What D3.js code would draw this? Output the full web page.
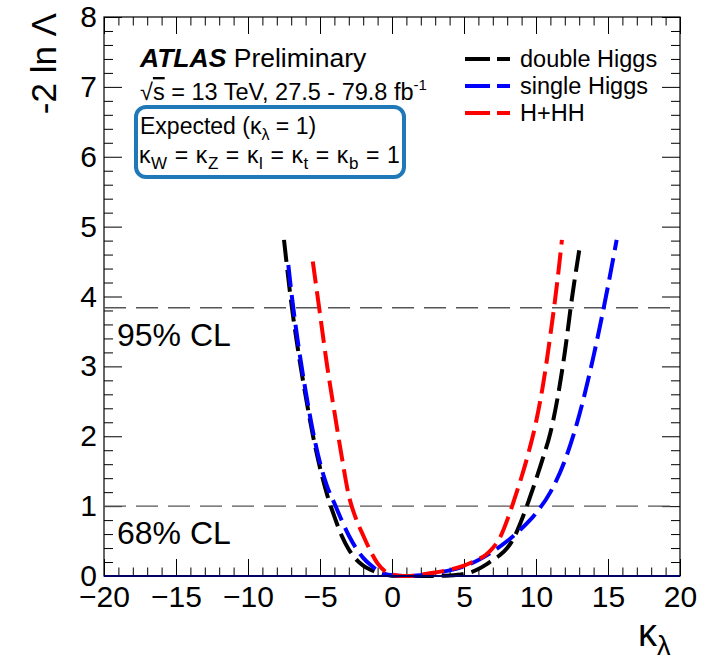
<!DOCTYPE html>
<html>
<head>
<meta charset="utf-8">
<script src="https://cdn.jsdelivr.net/npm/d3@7"></script>
<style>
  body { margin: 0; background: #fff; }
  svg text { font-family: "Liberation Sans", Arial, Helvetica, sans-serif; fill: #000; }
</style>
</head>
<body>
<div class="canvas"></div>
<script>
// kappa_lambda scan points and -2 ln Lambda values
const doubleK = [-7.5, -7, -6.5, -6, -5.5, -5, -4.5, -4, -3.5, -3, -2.5, -2, -1.5, -1, -0.5, 0, 1, 2, 3, 4, 5, 5.5, 6, 6.5, 7, 7.5, 8, 8.5, 9, 9.5, 10, 10.5, 11, 11.5, 12, 12.5, 13];
const doubleV = [4.81, 3.92, 3.2, 2.58, 2.02, 1.55, 1.16, 0.85, 0.58, 0.38, 0.24, 0.15, 0.09, 0.05, 0.02, 0.005, 0, 0, 0.002, 0.008, 0.03, 0.055, 0.1, 0.16, 0.23, 0.3, 0.4, 0.56, 0.8, 1.08, 1.38, 1.7, 2.05, 2.55, 3.2, 3.98, 4.66];

const singleK = [-7.2, -7, -6.5, -6, -5.5, -5, -4.5, -4, -3.5, -3, -2.5, -2, -1.5, -1, -0.5, 0, 1, 2, 3, 4, 5, 6, 7, 8, 9, 10, 11, 12, 13, 14, 15, 15.6];
const singleV = [4.45, 4.08, 3.3, 2.65, 2.08, 1.62, 1.28, 1.04, 0.8, 0.58, 0.4, 0.26, 0.16, 0.08, 0.03, 0.01, 0, 0.01, 0.04, 0.08, 0.14, 0.23, 0.35, 0.5, 0.68, 0.9, 1.2, 1.65, 2.3, 3.15, 4.15, 4.81];

const comboK = [-5.5, -5, -4.5, -4, -3.5, -3, -2.5, -2, -1.5, -1, -0.5, 0, 0.5, 1, 1.5, 2, 3, 4, 5, 6, 6.5, 7, 7.5, 8, 8.5, 9, 9.5, 10, 10.5, 11, 11.5, 11.8];
const comboV = [4.5, 3.75, 3.0, 2.35, 1.72, 1.15, 0.82, 0.58, 0.36, 0.18, 0.07, 0.02, 0.003, 0, 0.005, 0.02, 0.05, 0.09, 0.15, 0.24, 0.3, 0.4, 0.55, 0.8, 1.1, 1.42, 1.78, 2.2, 2.75, 3.45, 4.25, 4.81];

const seriesNames = ['double Higgs', 'single Higgs', 'H+HH'];
const seriesColors = ['#000000', '#0000ff', '#ff0000'];

const clValues = [3.84, 1];
const clLabels = ['95% CL', '68% CL'];

const xMajor = [-20, -15, -10, -5, 0, 5, 10, 15, 20];
const yMajor = [0, 1, 2, 3, 4, 5, 6, 7, 8];

const svg = d3.select('.canvas')
    .append('svg')
    .attr('width', 704)
    .attr('height', 664);

const fLeft = 104, fRight = 680, fTop = 17, fBottom = 576;

const x = d3.scaleLinear().domain([-20, 20]).range([fLeft, fRight]);
const y = d3.scaleLinear().domain([0, 8]).range([fBottom, fTop]);

const xMinor = d3.range(-20, 21, 1).filter(v => v % 5 !== 0);
const yMinor = d3.range(0, 8.01, 0.2).map(v => +v.toFixed(1)).filter(v => Math.abs(v - Math.round(v)) > 0.01);

// axes, ticks pointing inwards on all four sides
const tickStyle = g => {
    g.select('.domain').remove();
    g.selectAll('line').attr('stroke', '#000').attr('stroke-width', 1);
};

svg.append('g')
    .attr('transform', `translate(0,${fBottom})`)
    .call(d3.axisBottom(x).tickValues(xMajor).tickSize(-17).tickPadding(10))
    .call(tickStyle)
    .selectAll('text').attr('font-size', 30);
svg.append('g')
    .attr('transform', `translate(0,${fBottom})`)
    .call(d3.axisBottom(x).tickValues(xMinor).tickSize(-8.5).tickFormat(''))
    .call(tickStyle);
svg.append('g')
    .attr('transform', `translate(0,${fTop})`)
    .call(d3.axisTop(x).tickValues(xMajor).tickSize(-17).tickFormat(''))
    .call(tickStyle);
svg.append('g')
    .attr('transform', `translate(0,${fTop})`)
    .call(d3.axisTop(x).tickValues(xMinor).tickSize(-8.5).tickFormat(''))
    .call(tickStyle);

svg.append('g')
    .attr('transform', `translate(${fLeft},0)`)
    .call(d3.axisLeft(y).tickValues(yMajor).tickSize(-18).tickPadding(7))
    .call(tickStyle)
    .selectAll('text').attr('font-size', 30);
svg.append('g')
    .attr('transform', `translate(${fLeft},0)`)
    .call(d3.axisLeft(y).tickValues(yMinor).tickSize(-9).tickFormat(''))
    .call(tickStyle);
svg.append('g')
    .attr('transform', `translate(${fRight},0)`)
    .call(d3.axisRight(y).tickValues(yMajor).tickSize(-18).tickFormat(''))
    .call(tickStyle);
svg.append('g')
    .attr('transform', `translate(${fRight},0)`)
    .call(d3.axisRight(y).tickValues(yMinor).tickSize(-9).tickFormat(''))
    .call(tickStyle);

// frame
svg.append('rect')
    .attr('x', fLeft).attr('y', fTop)
    .attr('width', fRight - fLeft).attr('height', fBottom - fTop)
    .attr('fill', 'none').attr('stroke', '#000').attr('stroke-width', 1.2);

// CL lines
svg.selectAll('.cl')
    .data(clValues)
    .enter()
    .append('line')
    .attr('x1', fLeft).attr('x2', fRight)
    .attr('y1', d => y(d)).attr('y2', d => y(d))
    .attr('stroke', '#555').attr('stroke-width', 1.4)
    .attr('stroke-dasharray', '22,10');

svg.selectAll('.cltext')
    .data(clLabels)
    .enter()
    .append('text')
    .attr('x', 117)
    .attr('y', (d, i) => y(clValues[i]) + 38)
    .attr('font-size', 32)
    .text(d => d);

// curves
const line = d3.line()
    .x(d => x(d[0]))
    .y(d => y(d[1]))
    .curve(d3.curveMonotoneX);

const curves = [
    d3.zip(doubleK, doubleV),
    d3.zip(singleK, singleV),
    d3.zip(comboK, comboV)
];

svg.selectAll('.curve')
    .data(curves)
    .enter()
    .append('path')
    .attr('d', line)
    .attr('fill', 'none')
    .attr('stroke', (d, i) => seriesColors[i])
    .attr('stroke-width', 4)
    .attr('stroke-dasharray', '22,8');

// line at zero
svg.append('line')
    .attr('x1', fLeft).attr('x2', fRight)
    .attr('y1', y(0)).attr('y2', y(0))
    .attr('stroke', '#000066').attr('stroke-width', 2);

// axis titles
svg.append('text')
    .attr('transform', `translate(56,${fTop - 4}) rotate(-90)`)
    .attr('text-anchor', 'end')
    .attr('font-size', 35)
    .text('-2 ln \u039B');

const xt = svg.append('text')
    .attr('x', 638).attr('y', 646)
    .attr('font-size', 38);
xt.append('tspan').text('\u03BA');
xt.append('tspan').attr('dy', 9).attr('font-size', 27).text('\u03BB');

// ATLAS label
const atl = svg.append('text').attr('x', 140).attr('y', 67).attr('font-size', 26.5);
atl.append('tspan').attr('font-weight', 'bold').attr('font-style', 'italic').text('ATLAS');
atl.append('tspan').text(' Preliminary');

const en = svg.append('text').attr('x', 140).attr('y', 100).attr('font-size', 23.5);
en.append('tspan').text('\u221A');
en.append('tspan').style('text-decoration', 'overline').text('s');
en.append('tspan').text(' = 13 TeV, 27.5 - 79.8 fb');
en.append('tspan').attr('dy', -10).attr('font-size', 15).text('-1');

svg.append('rect')
    .attr('x', 136).attr('y', 107)
    .attr('width', 268).attr('height', 70)
    .attr('rx', 10)
    .attr('fill', 'none')
    .attr('stroke', '#1f78b8')
    .attr('stroke-width', 4);

const exp = svg.append('text').attr('x', 140).attr('y', 134).attr('font-size', 23);
exp.append('tspan').text('Expected (\u03BA');
exp.append('tspan').attr('dy', 6).attr('font-size', 16).text('\u03BB');
exp.append('tspan').attr('dy', -6).text(' = 1)');

const kap = svg.append('text').attr('x', 139).attr('y', 163).attr('font-size', 23)
    .attr('letter-spacing', 0.6);
['W', 'Z', 'l', 't', 'b'].forEach((s, i) => {
    kap.append('tspan').attr('dy', i === 0 ? 0 : -6).text((i === 0 ? '' : ' = ') + '\u03BA');
    kap.append('tspan').attr('dy', 6).attr('font-size', 17).text(s);
});
kap.append('tspan').attr('dy', -6).text(' = 1');

// legend
const legend = svg.selectAll('.legend')
    .data(seriesNames)
    .enter()
    .append('g')
    .attr('transform', (d, i) => `translate(465,${59 + i * 27})`);

legend.append('line')
    .attr('x1', 0).attr('x2', 45)
    .attr('stroke', (d, i) => seriesColors[i])
    .attr('stroke-width', 4)
    .attr('stroke-dasharray', '25,7');

legend.append('text')
    .attr('x', 55).attr('y', 8)
    .attr('font-size', 23.5)
    .text(d => d);
</script>
</body>
</html>
